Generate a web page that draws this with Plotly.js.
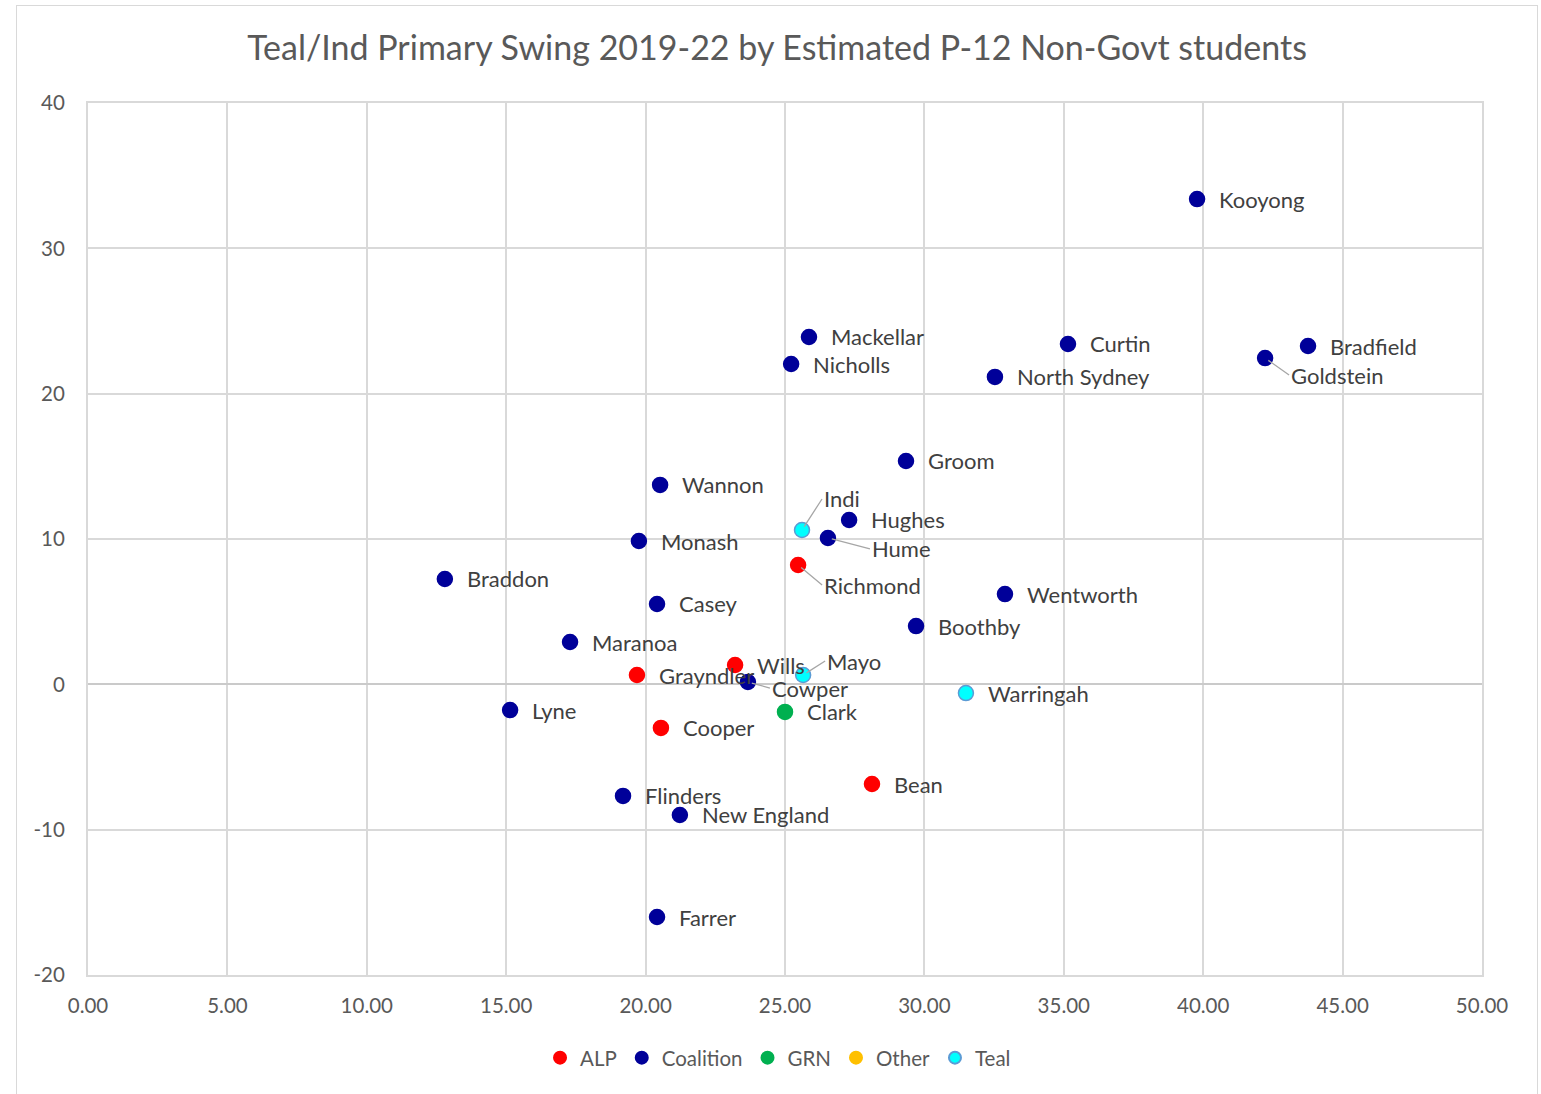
<!DOCTYPE html>
<html>
<head>
<meta charset="utf-8">
<script src="https://cdn.plot.ly/plotly-3.0.1.min.js"></script>
<style>
  html, body { margin: 0; padding: 0; background: #ffffff; }
  #chart { position: absolute; left: 16px; top: 5px; width: 1520px; height: 1100px; border: 1px solid #d9d9d9; }
</style>
</head>
<body>
<div id="chart"></div>
<script>
// ---- Data ----
const alpNames = ["Richmond", "Wills", "Grayndler", "Cooper", "Bean"];
const alpX     = [25.47, 23.21, 19.69, 20.55, 28.12];
const alpY     = [8.21, 1.33, 0.64, -3.00, -6.86];

const coalitionNames = ["Kooyong", "Bradfield", "Goldstein", "Curtin", "North Sydney", "Mackellar", "Nicholls",
  "Groom", "Wannon", "Hughes", "Hume", "Monash", "Braddon", "Wentworth", "Casey", "Boothby", "Maranoa",
  "Cowper", "Lyne", "Flinders", "New England", "Farrer"];
const coalitionX = [39.78, 43.76, 42.22, 35.15, 32.53, 25.86, 25.22,
  29.34, 20.52, 27.30, 26.54, 19.76, 12.80, 32.89, 20.41, 29.70, 17.29,
  23.67, 15.14, 19.19, 21.23, 20.41];
const coalitionY = [33.39, 23.28, 22.45, 23.42, 21.15, 23.90, 22.04,
  15.37, 13.72, 11.31, 10.07, 9.86, 7.25, 6.21, 5.53, 4.01, 2.91,
  0.16, -1.77, -7.68, -8.99, -16.01];

const grnNames = ["Clark"];
const grnX     = [25.00];
const grnY     = [-1.90];

const otherNames = [];
const otherX     = [];
const otherY     = [];

const tealNames = ["Indi", "Mayo", "Warringah"];
const tealX     = [25.61, 25.65, 31.49];
const tealY     = [10.62, 0.64, -0.60];

const xTickVals = [0, 5, 10, 15, 20, 25, 30, 35, 40, 45, 50];
const xTickText = ["0.00", "5.00", "10.00", "15.00", "20.00", "25.00", "30.00", "35.00", "40.00", "45.00", "50.00"];
const yTickVals = [-20, -10, 0, 10, 20, 30, 40];
const yTickText = ["-20", "-10", "0", "10", "20", "30", "40"];

const titleText = "Teal/Ind Primary Swing 2019-22 by Estimated P-12 Non-Govt students";

// ---- Styling ----
const FONT = "Lato, 'Open Sans', sans-serif";
const labelColor = "#404040";
const axisTextColor = "#595959";

// label placement (pixel offsets, styling only) for labels with leader lines
const leader = {
  "Indi":      { ax: 20, ay: -31 },
  "Mayo":      { ax: 22, ay: -14 },
  "Hume":      { ax: 42, ay: 11 },
  "Richmond":  { ax: 24, ay: 20 },
  "Cowper":    { ax: 22, ay: 6 },
  "Goldstein": { ax: 24, ay: 17 }
};

const series = [
  { name: "ALP", names: alpNames, x: alpX, y: alpY, color: "#FF0000", line: "#FF0000" },
  { name: "Coalition", names: coalitionNames, x: coalitionX, y: coalitionY, color: "#000099", line: "#000099" },
  { name: "GRN", names: grnNames, x: grnX, y: grnY, color: "#00B050", line: "#00B050" },
  { name: "Other", names: otherNames, x: otherX, y: otherY, color: "#FFC000", line: "#FFC000" },
  { name: "Teal", names: tealNames, x: tealX, y: tealY, color: "#00FFFF", line: "#5B9BD5" }
];

const traces = series.map(s => ({
  type: "scatter",
  mode: "markers",
  name: s.name,
  x: s.x.length ? s.x : [null],
  y: s.y.length ? s.y : [null],
  text: s.names,
  hoverinfo: "text+x+y",
  marker: { size: 15, color: s.color, line: { color: s.line, width: 1.5 } }
}));

const annotations = [];
series.forEach(s => {
  s.names.forEach((n, i) => {
    const base = {
      x: s.x[i], y: s.y[i], xref: "x", yref: "y", text: n,
      font: { family: FONT, size: 22, color: labelColor }
    };
    if (leader[n]) {
      annotations.push(Object.assign(base, {
        showarrow: true, arrowhead: 0, arrowwidth: 1.3, arrowcolor: "#A6A6A6",
        ax: leader[n].ax, ay: leader[n].ay, xanchor: "left", yanchor: "middle",
        standoff: 4
      }));
    } else {
      annotations.push(Object.assign(base, {
        showarrow: false, xanchor: "left", yanchor: "middle", xshift: 20, yshift: 0
      }));
    }
  });
});

const layout = {
  width: 1520,
  height: 1100,
  margin: { l: 71, r: 55, t: 97, b: 131 },
  paper_bgcolor: "#ffffff",
  plot_bgcolor: "#ffffff",
  font: { family: FONT, color: axisTextColor },
  title: {
    text: titleText,
    font: { family: FONT, size: 34, color: axisTextColor },
    x: 0.5, xanchor: "center", xref: "container",
    y: 0.962, yanchor: "middle", yref: "container"
  },
  xaxis: {
    range: [0, 50], tickvals: xTickVals, ticktext: xTickText,
    showgrid: true, gridcolor: "#D9D9D9", gridwidth: 2,
    zeroline: false, showline: true, mirror: true, linecolor: "#D9D9D9", linewidth: 2,
    ticks: "",
    ticklabelstandoff: 11,
    tickfont: { family: FONT, size: 20.5, color: axisTextColor }
  },
  yaxis: {
    range: [-20, 40], tickvals: yTickVals, ticktext: yTickText,
    showgrid: true, gridcolor: "#D9D9D9", gridwidth: 2,
    zeroline: true, zerolinecolor: "#CACACA", zerolinewidth: 2,
    showline: true, mirror: true, linecolor: "#D9D9D9", linewidth: 2,
    ticks: "",
    ticklabelstandoff: 17,
    tickfont: { family: FONT, size: 20.5, color: axisTextColor }
  },
  showlegend: true,
  legend: {
    orientation: "h", x: 0.495, xanchor: "center", y: -0.095, yanchor: "middle",
    font: { family: FONT, size: 20.5, color: axisTextColor },
    itemwidth: 30, tracegroupgap: 0, itemsizing: "constant"
  },
  annotations: annotations
};

Plotly.newPlot("chart", traces, layout, { displayModeBar: false, staticPlot: true });
</script>
</body>
</html>
